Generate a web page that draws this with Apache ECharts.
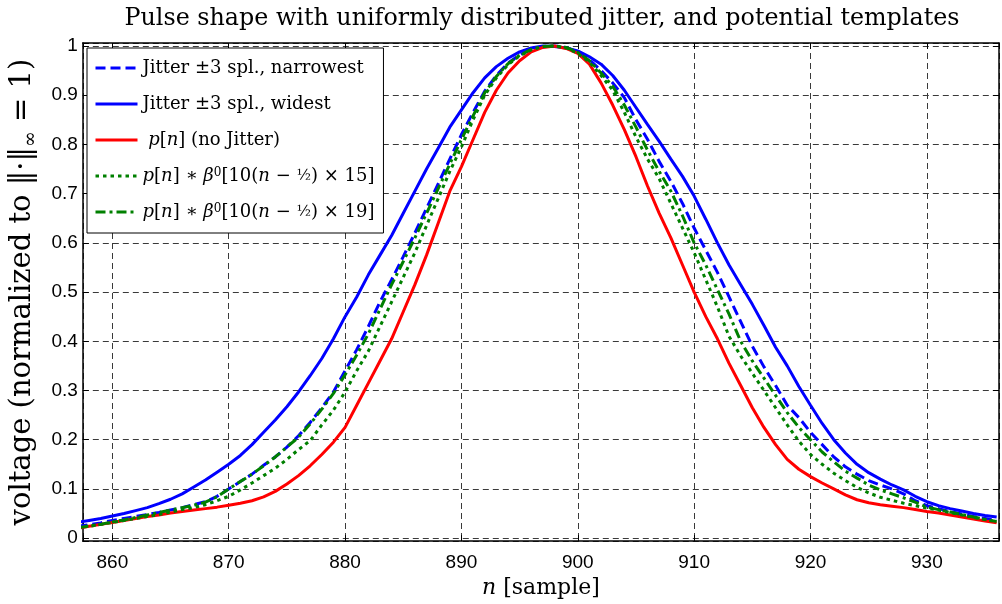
<!DOCTYPE html>
<html><head><meta charset="utf-8">
<script src="https://cdn.jsdelivr.net/npm/echarts@6/dist/echarts.min.js"></script>
<style>html,body{margin:0;padding:0;background:#fff}#c{width:1002px;height:604px}</style>
</head><body><div id="c"></div><script>
// ---- data ----
const samples = [857,858,859,860,861,862,863,864,865,866,867,868,869,870,871,872,873,874,875,876,877,878,879,880,881,882,883,884,885,886,887,888,889,890,891,892,893,894,895,896,897,898,899,900,901,902,903,904,905,906,907,908,909,910,911,912,913,914,915,916,917,918,919,920,921,922,923,924,925,926,927,928,929,930,931,932,933,934,935,936];
const narrowest = [0.024,0.027,0.031,0.036,0.040,0.044,0.048,0.052,0.057,0.062,0.068,0.074,0.085,0.100,0.115,0.130,0.148,0.165,0.185,0.208,0.235,0.265,0.297,0.340,0.383,0.430,0.480,0.525,0.572,0.620,0.670,0.720,0.770,0.820,0.865,0.908,0.940,0.965,0.982,0.993,0.999,1.000,0.997,0.988,0.972,0.950,0.925,0.895,0.850,0.810,0.765,0.725,0.680,0.630,0.585,0.540,0.490,0.440,0.390,0.348,0.310,0.270,0.245,0.215,0.190,0.165,0.145,0.130,0.117,0.108,0.100,0.090,0.076,0.066,0.060,0.054,0.049,0.044,0.040,0.036];
const widest = [0.032,0.036,0.040,0.045,0.050,0.056,0.062,0.070,0.079,0.090,0.104,0.118,0.134,0.150,0.168,0.190,0.215,0.240,0.267,0.297,0.330,0.365,0.405,0.450,0.490,0.535,0.575,0.615,0.660,0.705,0.750,0.792,0.835,0.870,0.905,0.935,0.958,0.975,0.988,0.996,1.000,0.999,0.996,0.990,0.978,0.963,0.940,0.910,0.875,0.840,0.806,0.770,0.735,0.695,0.648,0.600,0.555,0.515,0.475,0.432,0.388,0.350,0.308,0.270,0.233,0.200,0.173,0.150,0.133,0.120,0.108,0.098,0.085,0.074,0.066,0.060,0.055,0.050,0.046,0.043];
const noJitter = [0.020,0.024,0.028,0.032,0.036,0.040,0.044,0.047,0.051,0.054,0.057,0.060,0.063,0.067,0.071,0.076,0.084,0.095,0.110,0.127,0.147,0.170,0.195,0.225,0.270,0.315,0.360,0.405,0.460,0.515,0.575,0.640,0.705,0.755,0.810,0.865,0.910,0.945,0.970,0.988,0.997,1.000,0.995,0.985,0.963,0.925,0.880,0.830,0.775,0.715,0.660,0.610,0.555,0.500,0.450,0.405,0.355,0.310,0.265,0.225,0.190,0.160,0.140,0.125,0.112,0.100,0.088,0.078,0.072,0.068,0.065,0.062,0.058,0.054,0.051,0.047,0.043,0.039,0.035,0.031];
const template15 = [0.022,0.025,0.028,0.032,0.036,0.040,0.044,0.048,0.053,0.058,0.062,0.068,0.076,0.085,0.098,0.112,0.127,0.142,0.160,0.180,0.198,0.230,0.260,0.297,0.340,0.380,0.430,0.480,0.530,0.580,0.635,0.690,0.745,0.795,0.850,0.900,0.935,0.962,0.980,0.992,0.999,1.000,0.996,0.985,0.967,0.940,0.910,0.865,0.815,0.770,0.730,0.680,0.630,0.580,0.525,0.470,0.410,0.370,0.335,0.300,0.265,0.230,0.197,0.170,0.150,0.132,0.117,0.103,0.092,0.083,0.077,0.071,0.066,0.061,0.057,0.052,0.047,0.042,0.038,0.033];
const template19 = [0.021,0.024,0.028,0.033,0.037,0.042,0.047,0.052,0.057,0.062,0.067,0.073,0.084,0.100,0.115,0.130,0.147,0.165,0.185,0.205,0.232,0.262,0.294,0.332,0.372,0.415,0.465,0.515,0.562,0.610,0.660,0.710,0.760,0.810,0.858,0.905,0.938,0.964,0.981,0.993,0.999,1.000,0.997,0.987,0.970,0.945,0.918,0.880,0.835,0.788,0.745,0.705,0.655,0.600,0.555,0.505,0.455,0.400,0.360,0.325,0.290,0.255,0.225,0.200,0.175,0.155,0.136,0.122,0.108,0.098,0.090,0.082,0.073,0.063,0.058,0.053,0.048,0.043,0.038,0.034];
const xTickLabels = [860, 870, 880, 890, 900, 910, 920, 930];
const yTickLabels = ['0','0.1','0.2','0.3','0.4','0.5','0.6','0.7','0.8','0.9','1'];
const seriesNames = ['Jitter ±3 spl., narrowest', 'Jitter ±3 spl., widest', 'p[n] (no Jitter)', 'p[n] * b0 x15', 'p[n] * b0 x19'];
const legendRich = [
  'Jitter ±3 spl., narrowest',
  'Jitter ±3 spl., widest',
  ' {i|p}[{i|n}] (no Jitter)',
  '{i|p}[{i|n}] ∗ {i|β}{sup|0}[10({i|n} − {fr|½}) × 15]',
  '{i|p}[{i|n}] ∗ {i|β}{sup|0}[10({i|n} − {fr|½}) × 19]'
];
const titleText = 'Pulse shape with uniformly distributed jitter, and potential templates';

// ---- chart ----
const SERIF = 'DejaVu Serif';
const SANS = 'Liberation Sans';
const chart = echarts.init(document.getElementById('c'), null, {renderer: 'canvas'});
const xMin = 857.46, xMax = 936.2, yMin = -0.006, yMax = 1.006;
function pairs(ys) { return samples.map((x, i) => [x, ys[i]]); }
const gridLine = {show: true, lineStyle: {color: '#3a3a3a', width: 1, type: [6, 4]}};
const styles = [
  {color: '#0000ff', type: [10, 5]},
  {color: '#0000ff', type: 'solid'},
  {color: '#ff0000', type: 'solid'},
  {color: '#008000', type: [3.5, 4]},
  {color: '#008000', type: [10, 4, 3, 4]}
];
const dataSets = [narrowest, widest, noJitter, template15, template19];
const richMath = {
  i: {fontFamily: SERIF, fontStyle: 'italic', fontSize: 18, color: '#000'},
  sup: {fontFamily: SERIF, fontSize: 12, verticalAlign: 'top', color: '#000'},
  fr: {fontFamily: SERIF, fontSize: 15, color: '#000'}
};
const legendMap = {};
seriesNames.forEach((n, k) => legendMap[n] = legendRich[k]);

chart.setOption({
  animation: false,
  backgroundColor: '#fff',
  title: {
    text: titleText, left: 537, top: 2, textAlign: 'center',
    textStyle: {fontFamily: SERIF, fontWeight: 'normal', fontSize: 23.8, color: '#000'}
  },
  grid: {left: 77, right: 2, top: 43, bottom: 58, containLabel: false},
  legend: {
    orient: 'vertical', left: 87, top: 48,
    data: seriesNames,
    padding: [11, 9, 12, 7], itemGap: 18, itemWidth: 42, itemHeight: 21,
    backgroundColor: '#fff', borderColor: '#000', borderWidth: 1, borderRadius: 0,
    lineStyle: {width: 3},
    itemStyle: {opacity: 0, borderWidth: 0},
    formatter: name => legendMap[name],
    textStyle: {fontFamily: SERIF, fontSize: 18, color: '#000', rich: richMath}
  },
  xAxis: [{
    type: 'value', min: xMin, max: xMax, splitNumber: 8,
    name: '{i|n} [sample]', nameLocation: 'middle', nameGap: 33,
    nameTextStyle: {fontFamily: SERIF, fontSize: 22, color: '#000',
      rich: {i: {fontFamily: SERIF, fontStyle: 'italic', fontSize: 22, color: '#000'}}},
    axisLine: {show: true, onZero: false, lineStyle: {color: '#000', width: 1.5}},
    axisTick: {show: true, inside: true, length: 6, lineStyle: {color: '#000'}},
    axisLabel: {show: true, margin: 12, color: '#000', fontFamily: SANS, fontSize: 19,
      formatter: v => { const t = xTickLabels.find(k => Math.abs(k - v) < 1e-6); return t === undefined ? '' : String(t); }},
    splitLine: gridLine
  }, {
    type: 'value', min: xMin, max: xMax, splitNumber: 8, position: 'top',
    axisLine: {show: true, onZero: false, lineStyle: {color: '#000', width: 1.5}},
    axisTick: {show: true, inside: true, length: 6, lineStyle: {color: '#000'}},
    axisLabel: {show: false}, splitLine: {show: false}
  }],
  yAxis: [{
    type: 'value', min: yMin, max: yMax, splitNumber: 10,
    name: '{t|voltage (normalized to ‖·‖}{s|∞}{t| = 1)}', nameLocation: 'middle', nameGap: 38, nameRotate: 90,
    nameTextStyle: {fontFamily: SERIF, fontSize: 29, color: '#000',
      rich: {t: {fontFamily: SERIF, fontSize: 29, lineHeight: 36, color: '#000'},
             s: {fontFamily: SERIF, fontSize: 19, verticalAlign: 'bottom', color: '#000'}}},
    axisLine: {show: true, onZero: false, lineStyle: {color: '#000', width: 1.5}},
    axisTick: {show: true, inside: true, length: 6, lineStyle: {color: '#000'}},
    axisLabel: {show: true, margin: 5, color: '#000', fontFamily: SANS, fontSize: 19,
      formatter: v => { const k = Math.round(v * 10); return (Math.abs(v * 10 - k) < 1e-6 && k >= 0 && k <= 10) ? yTickLabels[k] : ''; }},
    splitLine: gridLine
  }, {
    type: 'value', min: yMin, max: yMax, splitNumber: 10, position: 'right',
    axisLine: {show: true, onZero: false, lineStyle: {color: '#000', width: 1.5}},
    axisTick: {show: true, inside: true, length: 6, lineStyle: {color: '#000'}},
    axisLabel: {show: false}, splitLine: {show: false}
  }],
  series: seriesNames.map((name, k) => ({
    name, type: 'line', xAxisIndex: 0, yAxisIndex: 0,
    data: pairs(dataSets[k]), showSymbol: false, symbol: 'none', smooth: false, clip: true,
    color: styles[k].color,
    lineStyle: {color: styles[k].color, width: 3, type: styles[k].type},
    emphasis: {disabled: true}
  }))
});
</script></body></html>
